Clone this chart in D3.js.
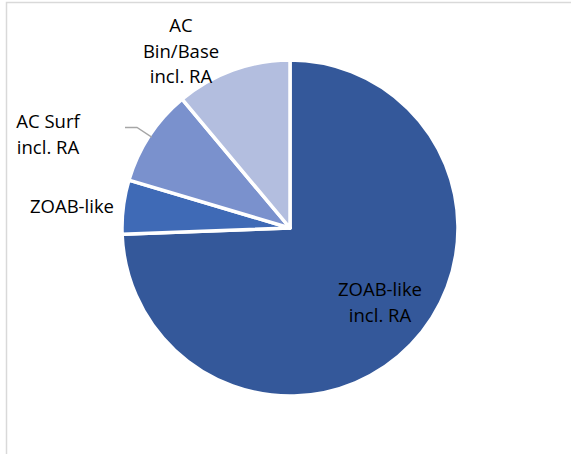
<!DOCTYPE html>
<html>
<head>
<meta charset="utf-8">
<script src="https://cdn.jsdelivr.net/npm/d3@7"></script>
<style>
  html, body { margin: 0; padding: 0; background: #fff; }
  svg { display: block; }
</style>
</head>
<body>
<svg id="chart" width="571" height="454"></svg>
<script>
// Share of asphalt mixture types (%)
const categories = ["ZOAB-like incl. RA", "ZOAB-like", "AC Surf incl. RA", "AC Bin/Base incl. RA"];
const values = [74.4, 5.2, 9.3, 11.1];
const colors = ["#34589A", "#3F6AB6", "#7A91CD", "#B3BEDF"];
const labelLines = [["ZOAB-like", "incl. RA"], ["ZOAB-like"], ["AC Surf", "incl. RA"], ["AC", "Bin/Base", "incl. RA"]];

const svg = d3.select("#chart");
const W = 571, H = 454;
const cx = 290, cy = 228, R = 168;

// chart area frame (left and top edges visible)
svg.append("rect")
  .attr("x", 6.5).attr("y", 2.5)
  .attr("width", W + 10).attr("height", H + 10)
  .attr("fill", "#fff")
  .attr("stroke", "#D9D9D9").attr("stroke-width", 1.5);

const data = categories.map((c, i) => ({ name: c, value: values[i], color: colors[i], lines: labelLines[i] }));

const pie = d3.pie().sort(null).value(d => d.value);
const arc = d3.arc().innerRadius(0).outerRadius(R);
const arcs = pie(data);

const g = svg.append("g").attr("transform", `translate(${cx},${cy})`);

g.selectAll("path.slice")
  .data(arcs)
  .join("path")
  .attr("class", "slice")
  .attr("d", arc)
  .attr("fill", d => d.data.color)
  .attr("stroke", "#fff")
  .attr("stroke-width", 3.5)
  .attr("stroke-linejoin", "round");

// label anchor points (centre x, first baseline y), relative to the svg
const labelPos = [
  { x: 380, y: 296 },
  { x: 72, y: 213 },
  { x: 48, y: 128 },
  { x: 181, y: 32 }
];
const lineGap = 25.5;

// leader line for the AC Surf slice
const surf = arcs[2];
const edge = d3.arc().innerRadius(R).outerRadius(R).centroid(surf);
svg.append("polyline")
  .attr("points", [[125, 127.5], [137, 127.5], [cx + edge[0] * 0.985, cy + edge[1] * 0.985]].map(p => p.join(",")).join(" "))
  .attr("fill", "none")
  .attr("stroke", "#A6A6A6")
  .attr("stroke-width", 1.3);

const labels = svg.append("g")
  .attr("font-family", "'Open Sans', 'Noto Sans', sans-serif")
  .attr("font-size", 18.5)
  .attr("fill", "#000");

data.forEach((d, i) => {
  const t = labels.append("text")
    .attr("text-anchor", "middle")
    .attr("x", labelPos[i].x)
    .attr("y", labelPos[i].y);
  d.lines.forEach((ln, j) => {
    t.append("tspan")
      .attr("x", labelPos[i].x)
      .attr("y", labelPos[i].y + j * lineGap)
      .text(ln);
  });
});
</script>
</body>
</html>
